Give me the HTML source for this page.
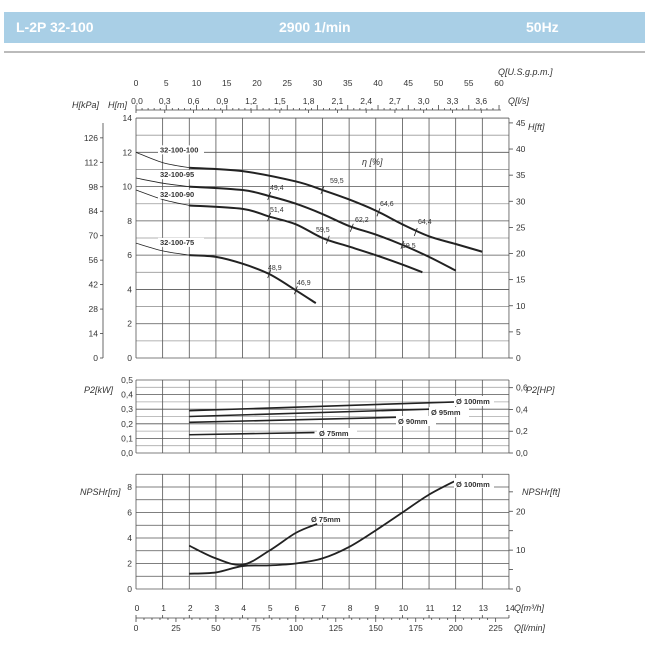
<!DOCTYPE html>
<html><head><meta charset="utf-8"><style>
body{margin:0;background:#fff;width:650px;height:650px;overflow:hidden;font-family:"Liberation Sans",sans-serif}
#hdr{position:absolute;left:4px;top:12px;width:514px;height:31px;background:#a9cfe6;width:641px}
#hdr span{position:absolute;top:7px;color:#fff;font-weight:bold;font-size:14px}
#ln{position:absolute;left:4px;top:51px;width:641px;height:2px;background:#bbb}
svg{position:absolute;left:0;top:0}
</style></head><body>
<div id="hdr"><span style="left:12px">L-2P 32-100</span><span style="left:275px">2900 1/min</span><span style="left:522px">50Hz</span></div>
<div id="ln"></div>
<svg id="s" width="650" height="650" font-family="Liberation Sans,sans-serif" font-size="8.5" fill="#333"></svg>
<script>
const s=document.getElementById('s');let h='';
const X0=136,PX=26.64,XR=X0+14*PX;
const X=q=>X0+q*PX;
function line(x1,y1,x2,y2,c,w){h+=`<line x1="${x1}" y1="${y1}" x2="${x2}" y2="${y2}" stroke="${c}" stroke-width="${w}"/>`}
function txt(x,y,t,a,extra){h+=`<text x="${x}" y="${y}" text-anchor="${a||'start'}" ${extra||''}>${t}</text>`}
function curve(pts,Y,w){let d=`M${X(pts[0][0])},${Y(pts[0][1])}`;
 for(let i=0;i<pts.length-1;i++){const p0=pts[Math.max(0,i-1)],p1=pts[i],p2=pts[i+1],p3=pts[Math.min(pts.length-1,i+2)];
 const c1=[X(p1[0])+(X(p2[0])-X(p0[0]))/6,Y(p1[1])+(Y(p2[1])-Y(p0[1]))/6],c2=[X(p2[0])-(X(p3[0])-X(p1[0]))/6,Y(p2[1])-(Y(p3[1])-Y(p1[1]))/6];
 d+=`C${c1},${c2},${X(p2[0])},${Y(p2[1])}`}
 h+=`<path d="${d}" fill="none" stroke="#222" stroke-width="${w}"/>`}
// main chart
const HY=v=>358-v*17.14;
for(let i=0;i<=14;i++){line(X0,HY(i),XR,HY(i),i%2?'#999':'#555',i%2?0.8:0.8)}
for(let q=0;q<=14;q++)line(X(q),HY(14),X(q),HY(0),'#555',0.8);
for(let i=0;i<=14;i+=2)txt(X0-4,HY(i)+3,i,'end');
line(103,HY(14)+5,103,358,'#444',0.8);
for(let k=0;k<=126;k+=14){const y=358-k/9.81*17.14;line(100,y,103,y,'#444',0.8);txt(98,y+3,k,'end')}
for(let k=0;k<=45;k+=5){const y=358-k*0.3048*17.14;line(XR,y,XR+4,y,'#444',0.8);txt(XR+7,y+3,k)}
txt(72,108,'H[kPa]','start','font-style="italic" font-size="9"');txt(108,108,'H[m]','start','font-style="italic" font-size="9"');
txt(528,130,'H[ft]','start','font-style="italic" font-size="9"');txt(362,165,'η [%]','start','font-style="italic" font-size="9"');
// top axes
line(X0,110,XR-8,110,'#444',0.8);
for(let g=0;g<=60;g+=1){const x=X0+g*0.22712*PX;if(x>XR-8)break;line(x,110,x,g%5?108:105,'#444',0.8);if(g%5==0)txt(x,86,g,'middle')}
for(let l=0;l<=3.6001;l+=0.3){const x=X0+l*3.6*PX;line(x,110,x,113,'#444',0.8);txt(x+(l==0?1:0),104,l.toFixed(1).replace('.',','),'middle')}
txt(498,75,'Q[U.S.g.p.m.]','start','font-style="italic" font-size="9"');txt(508,104,'Q[l/s]','start','font-style="italic" font-size="9"');
// H curves
const thin=[[[0,12],[1,11.4],[2,11.1]],[[0,10.5],[1,10.2],[2,10.0]],[[0,9.8],[1,9.25],[2,8.9]],[[0,6.7],[1,6.25],[2,6.0]]];
thin.forEach(p=>curve(p,HY,0.8));
curve([[2,11.1],[4,10.9],[6,10.3],[7,9.8],[8,9.25],[9,8.6],[10,7.8],[11,7.1],[12,6.65],[13,6.2]],HY,2);
curve([[2,10],[4,9.8],[5,9.45],[6,9.0],[7,8.4],[8,7.7],[9,7.2],[10,6.6],[11,5.9],[12,5.1]],HY,2);
curve([[2,8.9],[4,8.7],[5,8.25],[6,7.8],[7,7.0],[8,6.5],[9,6.0],[10,5.45],[10.75,5.0]],HY,2);
curve([[2,6.0],[3,5.9],[4,5.5],[5,4.9],[6,3.95],[6.75,3.2]],HY,2);
[['32-100-100',12],['32-100-95',10.55],['32-100-90',9.4],['32-100-75',6.6]].forEach(([t,v])=>{h+=`<rect x="158" y="${HY(v)-7}" width="46" height="9" fill="#fff"/>`;txt(160,HY(v),t,'start','font-weight="bold" font-size="7.5"')});
[[7,9.8,'59,5',330,183],[5,9.45,'49,4',270,190],[5,8.25,'51,4',270,212],[9.1,8.5,'64,6',380,206],[10.5,7.35,'64,4',418,224],[7.2,6.9,'59,5',316,232],[8.1,7.6,'62,2',355,222],[10,6.6,'59,5',402,248],[5,4.9,'48,9',268,270],[6,3.95,'46,9',297,285]].forEach(a=>{line(X(a[0])-1.5,HY(a[1])+4,X(a[0])+1.5,HY(a[1])-4,'#222',0.8);txt(a[3],a[4],a[2],'start','font-size="7"')});
// power
const PY=v=>453-v*146;
for(let i=0;i<=10;i++)line(X0,PY(i*0.05),XR,PY(i*0.05),i%2?'#aaa':'#555',0.8);
for(let q=0;q<=14;q++)line(X(q),PY(0.5),X(q),PY(0),'#555',0.8);
for(let i=0;i<=5;i++)txt(X0-3,PY(i/10)+3,(i/10).toFixed(1).replace('.',','),'end');
for(let i=0;i<=3;i++){const y=PY(i*0.2*0.7457);line(XR,y,XR+4,y,'#444',0.8);txt(XR+7,y+3,(i*0.2).toFixed(1).replace('.',','))}
txt(84,393,'P2[kW]','start','font-style="italic" font-size="9"');txt(526,393,'P2[HP]','start','font-style="italic" font-size="9"');
[[[2,0.29],[12,0.35],'Ø 100mm',456,404],[[2,0.25],[11,0.30],'Ø 95mm',431,415],[[2,0.21],[9.9,0.245],'Ø 90mm',398,424],[[2,0.125],[6.7,0.14],'Ø 75mm',319,436]].forEach(a=>{line(X(a[0][0]),PY(a[0][1]),X(a[1][0]),PY(a[1][1]),'#222',1.6);h+=`<rect x="${a[3]-2}" y="${a[4]-8}" width="40" height="10" fill="#fff"/>`;txt(a[3],a[4],a[2],'start','font-weight="bold" font-size="7.5"')});
// NPSH
const NY=v=>589-v*12.75;
for(let i=0;i<=9;i++)line(X0,NY(i),XR,NY(i),'#555',0.8);
for(let q=0;q<=14;q++)line(X(q),NY(9),X(q),NY(0),'#555',0.8);
for(let i=0;i<=8;i+=2)txt(X0-4,NY(i)+3,i,'end');
for(let f=0;f<=25;f+=5){const y=NY(f*0.3048);line(XR,y,XR+4,y,'#444',0.8);if(f%10==0)txt(XR+7,y+3,f)}
txt(80,495,'NPSHr[m]','start','font-style="italic" font-size="9"');txt(522,495,'NPSHr[ft]','start','font-style="italic" font-size="9"');
curve([[2,1.2],[3,1.3],[4,1.8],[5,1.85],[6,2.0],[7,2.4],[8,3.3],[9,4.6],[10,6.0],[11,7.4],[12,8.5]],NY,1.8);
curve([[2,3.4],[3,2.4],[4,1.9],[5,3.0],[6,4.4],[6.8,5.1]],NY,1.8);
h+=`<rect x="454" y="478" width="40" height="10" fill="#fff"/>`;txt(456,487,'Ø 100mm','start','font-weight="bold" font-size="7.5"');
h+=`<rect x="309" y="513" width="36" height="10" fill="#fff"/>`;txt(311,522,'Ø 75mm','start','font-weight="bold" font-size="7.5"');
// bottom axis
line(X0,618,XR,618,'#444',0.8);
for(let q=0;q<=14;q++){line(X(q),615,X(q),618,'#444',0.8);txt(X(q)+1,611,q,'middle')}
for(let l=0;l<=225;l+=5){const x=X0+l/16.667*PX;line(x,618,x,l%25?620:622,'#444',0.8);if(l%25==0)txt(x,631,l,'middle')}
txt(514,611,'Q[m³/h]','start','font-style="italic" font-size="9"');txt(514,631,'Q[l/min]','start','font-style="italic" font-size="9"');
s.innerHTML=h;
</script>
</body></html>
